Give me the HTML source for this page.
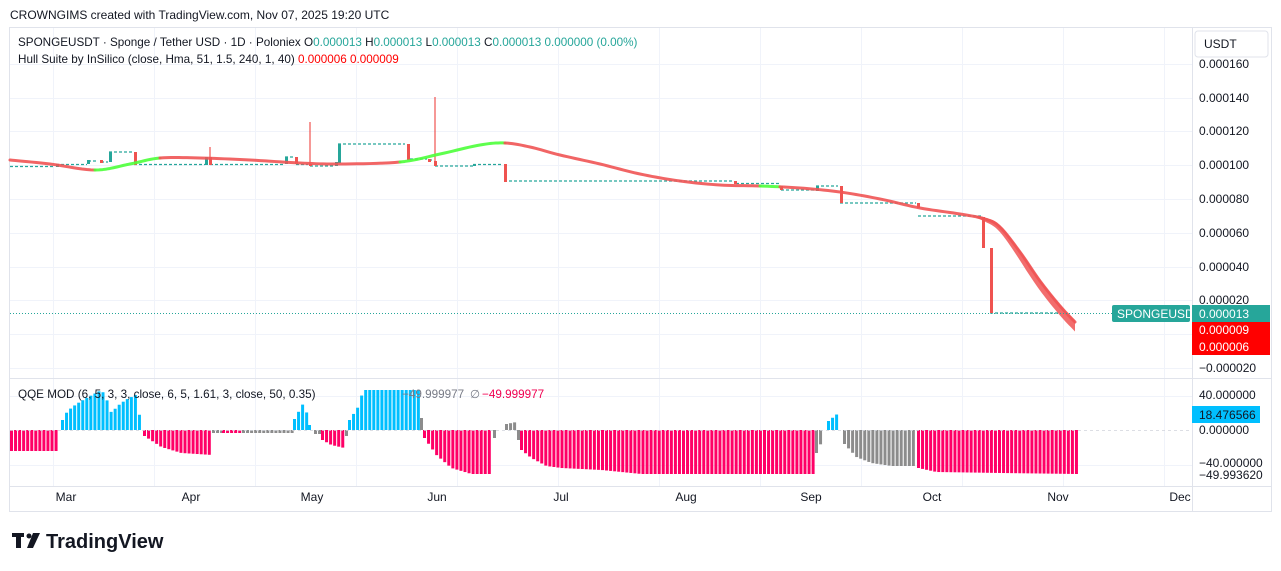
<!DOCTYPE html>
<html><head><meta charset="utf-8"><style>
body{margin:0;width:1281px;height:571px;background:#fff;overflow:hidden;font-family:"Liberation Sans",sans-serif;}
svg{position:absolute;left:0;top:0}
</style></head><body>
<svg id="s" width="1281" height="571" viewBox="0 0 1281 571" font-family="Liberation Sans, sans-serif">
<text x="10" y="19" font-size="12" fill="#131722">CROWNGIMS created with TradingView.com, Nov 07, 2025 19:20 UTC</text>
<rect x="9.5" y="27.5" width="1262" height="484" fill="none" stroke="#e0e3eb"/>
<g id="grid" stroke="#f0f3fa" stroke-width="1"></g>
<line x1="10" y1="378.5" x2="1271" y2="378.5" stroke="#e0e3eb"/>
<line x1="10" y1="486.5" x2="1271" y2="486.5" stroke="#e0e3eb"/>
<line x1="1192.5" y1="28" x2="1192.5" y2="511" stroke="#e0e3eb"/>
<g id="candles"></g>
<g id="hull" fill="none" stroke-linejoin="round" stroke-linecap="round"></g>
<g id="qqe"></g>
<line x1="10" y1="430.5" x2="1192" y2="430.5" stroke="#d1d4dc" stroke-dasharray="3,3" stroke-width="0.7"/>
<line x1="10" y1="313.5" x2="1112" y2="313.5" stroke="#26a69a" stroke-dasharray="1,2"/>
<g font-size="11.7" fill="#131722">
<text x="18" y="46">SPONGEUSDT · Sponge / Tether USD · 1D · Poloniex <tspan>O</tspan><tspan fill="#26a69a">0.000013</tspan> H<tspan fill="#26a69a">0.000013</tspan> L<tspan fill="#26a69a">0.000013</tspan> C<tspan fill="#26a69a">0.000013 0.000000 (0.00%)</tspan></text>
<text x="18" y="63">Hull Suite by InSilico (close, Hma, 51, 1.5, 240, 1, 40) <tspan fill="#f00">0.000006 0.000009</tspan></text>
<text x="18" y="398">QQE MOD (6, 5, 3, 3, close, 6, 5, 1.61, 3, close, 50, 0.35)</text>
<text x="402" y="398" fill="#787b86">−49.999977</text><text x="470" y="398" fill="#787b86">∅</text><text x="482" y="398" fill="#f00050">−49.999977</text>
</g>
<rect x="1195" y="31" width="73" height="26" rx="3" fill="#fff" stroke="#e0e3eb"/>
<text x="1204" y="48" font-size="12" fill="#131722">USDT</text>
<g font-size="12" fill="#131722" id="ylab"></g>
<rect x="1112" y="305" width="78" height="17" rx="2" fill="#26a69a"/>
<text x="1117" y="318" font-size="12" fill="#fff">SPONGEUSDT</text>
<rect x="1192" y="305" width="78" height="17" fill="#26a69a"/>
<text x="1199" y="318" font-size="12" fill="#fff">0.000013</text>
<rect x="1192" y="322" width="78" height="33" fill="#f00"/>
<text x="1199" y="334" font-size="12" fill="#fff">0.000009</text>
<text x="1199" y="351" font-size="12" fill="#fff">0.000006</text>
<text x="1199" y="372" font-size="12" fill="#131722">−0.000020</text>
<text x="1199" y="399" font-size="12" fill="#131722">40.000000</text>
<rect x="1192" y="406" width="68" height="17" fill="#00bfff"/>
<text x="1199" y="419" font-size="12" fill="#131722">18.476566</text>
<text x="1199" y="434" font-size="12" fill="#131722">0.000000</text>
<text x="1199" y="467" font-size="12" fill="#131722">−40.000000</text>
<text x="1199" y="479" font-size="12" fill="#131722">−49.993620</text>
<g font-size="12" fill="#131722" text-anchor="middle">
<text x="66" y="501">Mar</text><text x="191" y="501">Apr</text><text x="312" y="501">May</text><text x="437" y="501">Jun</text><text x="561" y="501">Jul</text><text x="686" y="501">Aug</text><text x="811" y="501">Sep</text><text x="932" y="501">Oct</text><text x="1058" y="501">Nov</text><text x="1180" y="501">Dec</text>
</g>
<g fill="#131722"><rect x="12" y="533" width="12" height="4"/><rect x="16" y="533" width="5" height="15"/><circle cx="29" cy="536" r="2.5"/><polygon points="33,533 40,533 33,548 27,548"/></g>
<text x="46" y="548" font-size="20" font-weight="bold" fill="#131722">TradingView</text>
</svg>
<script>
const NS="http://www.w3.org/2000/svg";
function el(p,t,a){const e=document.createElementNS(NS,t);for(const k in a)e.setAttribute(k,a[k]);document.getElementById(p).appendChild(e);return e;}
[64,98,131,165,199,233,267,300,334,368].forEach(y=>el("grid","line",{x1:10,x2:1192,y1:y+.5,y2:y+.5}));
[396,465].forEach(y=>el("grid","line",{x1:10,x2:1192,y1:y+.5,y2:y+.5}));
for(let x=53;x<1192;x+=101)el("grid","line",{x1:x+.5,x2:x+.5,y1:28,y2:486});
[["0.000160",64],["0.000140",98],["0.000120",131],["0.000100",165],["0.000080",199],["0.000060",233],["0.000040",267],["0.000020",300]].forEach(([t,y])=>{const e=el("ylab","text",{x:1199,y:y+4});e.textContent=t;});
const G="#26a69a",R="#ef5350";
const dl=[[10,55,166.5],[56,87,164.5],[88,98,161],[101,108,162],[109,133,152],[134,205,164.5],[210,283,164.5],[285,294,157],[296,308,164.5],[310,335,166],[338,405,144],[410,427,159],[429,433,160],[435,473,166],[473,503,164.5],[504,734,181],[736,779,183.5],[781,815,190],[816,838,186],[840,916,203],[918,981,216],[990,1060,313]];
dl.forEach(([a,b,y])=>el("candles","line",{x1:a,x2:b,y1:y,y2:y,stroke:G,"stroke-dasharray":"3,2","stroke-width":1.2}));
const cd=[[56,164,167,G],[87,160,164,G],[100,160,163,R],[109,152,162,G],[134,152,165,R],[205,157,165,G],[209,157,165,R,147],[285,157,164,G],[295,157,164,R],[309,164,166,R,122],[335,162,166,G],[338,144,163,G],[407,144,160,R],[428,159,162,R],[434,161,166,R,97],[473,164,166,G],[504,164,182,R],[734,181,184,R],[780,186,190,R],[816,186,191,G],[840,186,203,R],[917,203,208,R],[982,217,248,R],[990,248,313,R]];
cd.forEach(([x,a,b,c,w])=>{if(w)el("candles","line",{x1:x+1,x2:x+1,y1:w,y2:b,stroke:c,"stroke-width":1.2});el("candles","rect",{x:x,y:a,width:3,height:b-a,fill:c});});
const hp=[[10,160],[50,164],[95,170],[130,164],[160,158],[200,158],[250,160],[300,163],[340,164],[400,162],[440,154],[480,145],[505,143],[530,147],[560,155],[600,164],[640,174],[680,181],[720,185],[760,186],[800,188],[840,192],[880,199],[920,208],[960,214],[985,219],[1000,227],[1020,252],[1040,281],[1060,306],[1075,322]];
function cr(t,p0,p1,p2,p3){const t2=t*t,t3=t2*t;return 0.5*((2*p1)+(-p0+p2)*t+(2*p0-5*p1+4*p2-p3)*t2+(-p0+3*p1-3*p2+p3)*t3);}
const pts=[];
for(let i=0;i<hp.length-1;i++){const p0=hp[Math.max(0,i-1)],p1=hp[i],p2=hp[i+1],p3=hp[Math.min(hp.length-1,i+2)];
for(let k=0;k<10;k++){const t=k/10;pts.push([cr(t,p0[0],p1[0],p2[0],p3[0]),cr(t,p0[1],p1[1],p2[1],p3[1])]);}}
pts.push(hp[hp.length-1]);
const greens=[[95,160],[400,505],[760,780]];
const isG=x=>greens.some(([a,b])=>x>=a&&x<b);
let cur=null,buf=[];
function flush(){if(buf.length>1)el("hull","polyline",{points:buf.map(p=>p.join(",")).join(" "),stroke:cur?"#4dff3a":"#f05454","stroke-width":3,"stroke-opacity":0.9});}
pts.forEach(p=>{const g=isG(p[0]);if(g!==cur){if(buf.length){buf.push(p);flush();}cur=g;buf=[p];}else buf.push(p);});flush();
const band=pts.filter(p=>p[0]>=975);
if(band.length){const top=band.map(p=>[p[0],p[1]-1.5]);const bot=band.map(p=>[p[0],p[1]+1.5+Math.min(8,Math.max(0,(p[0]-978)/6))]).reverse();
el("hull","polygon",{points:top.concat(bot).map(p=>p.join(",")).join(" "),fill:"#f05454","fill-opacity":0.85,stroke:"none"});}
const B="#00bfff",P="#ff0066",Y="#8c8c8c";
const segs=[
[10,57,P,[[10,-21],[57,-21]]],
[61,139,B,[[61,10],[66,19],[75,26],[85,32],[100,40],[104,34],[110,17],[116,24],[124,30],[134,35],[138,15]]],
[143,211,P,[[143,-6],[160,-17],[180,-23],[211,-25]]],
[212,221,Y,[[212,-3],[221,-3]]],
[222,241,P,[[222,-3],[241,-3]]],
[242,292,Y,[[242,-3],[292,-3]]],
[293,307,B,[[293,11],[302,27],[306,15]]],
[308,309,B,[[308,5],[309,5]]],
[314,319,Y,[[314,-4],[319,-4]]],
[321,343,P,[[321,-10],[330,-15],[343,-18]]],
[345,346,Y,[[345,-6],[346,-6]]],
[348,418,B,[[348,10],[356,22],[362,40],[418,40]]],
[420,421,Y,[[420,12],[421,12]]],
[423,491,P,[[423,-8],[435,-25],[450,-38],[470,-44],[491,-44]]],
[493,497,Y,[[493,-8],[497,-4]]],
[505,515,Y,[[505,6],[515,8]]],
[517,519,Y,[[517,-10],[519,-10]]],
[520,812,P,[[520,-20],[530,-28],[545,-36],[560,-38],[600,-40],[640,-44],[812,-44]]],
[815,822,Y,[[815,-23],[822,-8]]],
[827,837,B,[[827,9],[832,13],[837,17]]],
[843,915,Y,[[843,-14],[855,-27],[870,-33],[890,-36],[915,-36]]],
[917,1075,P,[[917,-38],[935,-42],[1000,-43],[1075,-44]]]];
segs.forEach(([a,b,c,pp])=>{for(let x=a;x<=b;x+=4.05){let h=pp[pp.length-1][1];for(let i=1;i<pp.length;i++)if(x<=pp[i][0]){const p=pp[i-1],q=pp[i];h=p[1]+(q[1]-p[1])*(x-p[0])/(q[0]-p[0]);break;}
el("qqe","rect",{x:x,y:h>0?430-h:430,width:3,height:Math.abs(h),fill:c});}});
</script>
</body></html>
